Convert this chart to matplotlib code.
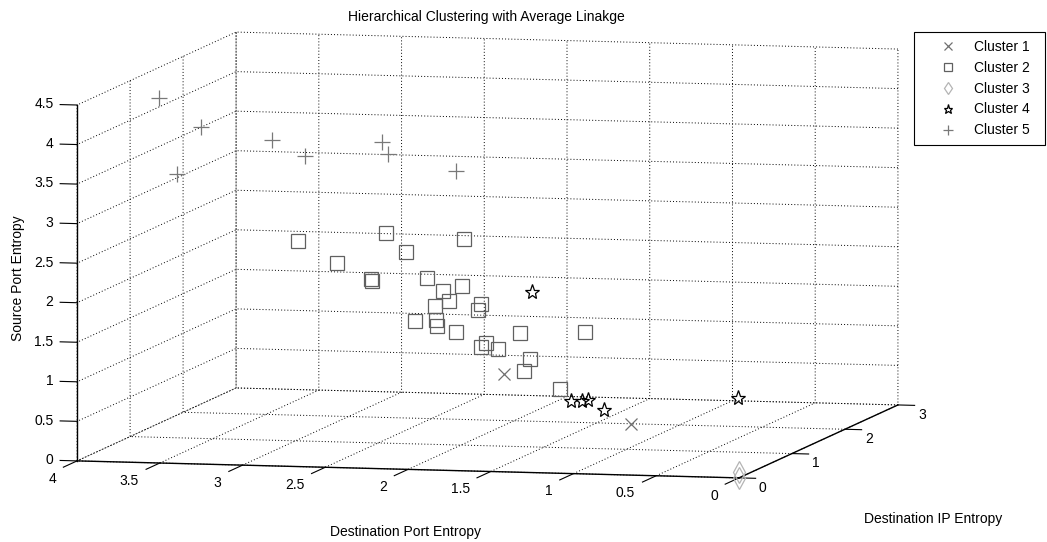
import matplotlib
matplotlib.use('Agg')
from matplotlib import pyplot as plt
from mpl_toolkits.mplot3d import proj3d

plt.rcParams['font.family'] = ['Liberation Sans', 'DejaVu Sans']
plt.rcParams['grid.color'] = 'k'
plt.rcParams['grid.linewidth'] = 0.7

# the data (x = destination port entropy, y = destination IP entropy, z = source port entropy)
c1_dport = [1.58, 0.75]
c1_dip = [0.50, 0.30]
c1_sport = [1.08, 0.55]

c2_dport = [2.92, 2.62, 2.45, 2.46, 2.42, 2.17, 1.98, 2.08, 2.01, 1.93, 1.91, 2.03, 2.18,
            1.99, 2.08, 1.90, 1.85, 1.80, 1.72, 1.72, 1.68, 1.58, 1.42, 1.49, 1.21, 1.25]
c2_dip = [0.80, 0.60, 0.70, 0.75, 0.90, 0.50, 1.00, 0.60, 0.70, 0.80, 0.50, 0.60, 0.70,
          0.50, 0.80, 0.60, 0.90, 0.70, 0.60, 0.50, 0.70, 0.80, 0.50, 0.60, 0.40, 1.00]
c2_sport = [2.59, 2.39, 2.17, 2.13, 2.69, 2.59, 2.61, 2.23, 2.04, 2.08, 1.98, 1.88, 1.65,
            1.74, 1.56, 1.56, 1.82, 1.81, 1.43, 1.41, 1.33, 1.50, 1.27, 1.09, 0.94, 1.47]

c3_dport = [0.0, 0.0]
c3_dip = [0.0, 0.0]
c3_sport = [0.0, 0.07]

c4_dport = [1.44, 1.11, 1.06, 0.99, 0.91, 0.04]
c4_dip = [0.60, 0.30, 0.35, 0.25, 0.30, 0.10]
c4_sport = [2.09, 0.82, 0.81, 0.86, 0.72, 0.98]

c5_dport = [3.89, 3.54, 3.75, 3.08, 2.94, 2.38, 2.54, 2.00]
c5_dip = [1.20, 0.90, 1.10, 0.80, 1.00, 0.70, 1.30, 0.90]
c5_sport = [4.23, 3.97, 3.30, 3.86, 3.61, 3.91, 3.56, 3.50]

xticks = [0, 0.5, 1, 1.5, 2, 2.5, 3, 3.5, 4]
xticklabels = ['0', '0.5', '1', '1.5', '2', '2.5', '3', '3.5', '4']
yticks = [0, 1, 2, 3]
yticklabels = ['0', '1', '2', '3']
zticks = [0, 0.5, 1, 1.5, 2, 2.5, 3, 3.5, 4, 4.5]
zticklabels = ['0', '0.5', '1', '1.5', '2', '2.5', '3', '3.5', '4', '4.5']

W, H = 1047, 542
fig = plt.figure(figsize=(W/100, H/100), dpi=100)
ax = fig.add_axes([-0.047, -0.4607, 0.99828, 1.92841], projection='3d', proj_type='ortho')

ax.plot(c1_dport, c1_dip, c1_sport, linestyle='none', marker='x', ms=9, mew=0.9,
        color='#707070', label='Cluster 1')
ax.plot(c2_dport, c2_dip, c2_sport, linestyle='none', marker='s', ms=10, mew=0.9,
        mfc='none', mec='#606060', label='Cluster 2')
ax.plot(c3_dport, c3_dip, c3_sport, linestyle='none', marker='d', ms=11, mew=0.9,
        mfc='none', mec='#b4b4b4', label='Cluster 3')
ax.plot(c4_dport, c4_dip, c4_sport, linestyle='none', marker='*', ms=11, mew=0.9,
        mfc='none', mec='k', label='Cluster 4')
ax.plot(c5_dport, c5_dip, c5_sport, linestyle='none', marker='+', ms=12, mew=0.9,
        color='#787878', label='Cluster 5')

# view (matlab like, reversed x)
ax.view_init(elev=6.23, azim=-76.69)
ax.set_xlim(4, 0)
ax.set_ylim(0, 3)
ax.set_zlim(0, 4.5)
ax.set_box_aspect((680.3, 690.8, 358.1), zoom=0.9597)

ax.set_xticks(xticks)
ax.set_yticks(yticks)
ax.set_zticks(zticks)
ax.zaxis.set_ticks_position('lower')
ax.zaxis._get_tickdir = lambda position: 0

for axis, fin, fout in [(ax.xaxis, 1.08, 0.0), (ax.yaxis, 0.315, 0.0), (ax.zaxis, 0.0, 0.32)]:
	axis.set_tick_params(label1On=False, label2On=False)
	axis._axinfo['tick']['inward_factor'] = fin
	axis._axinfo['tick']['outward_factor'] = fout
	axis._axinfo['tick']['linewidth'] = {True: 0.8, False: 0.5}
	axis._axinfo['grid']['linestyle'] = (0, (1, 2.2))
	axis.line.set_color('k')
	axis.line.set_linewidth(1.0)
	axis.set_pane_color((1, 1, 1, 0))

# tick labels, placed like matlab does (projected to the 2D plane of the axes)
M = ax.get_proj()
def label3d(x, y, z, s, ha):
	px, py, _ = proj3d.proj_transform(x, y, z, M)
	ax.text2D(px, py, s, transform=ax.transData, ha=ha, va='center', fontsize=10)

for t, s in zip(xticks, xticklabels):
	label3d(t, -0.396, -0.102, s, 'right')
for t, s in zip(yticks, yticklabels):
	label3d(-0.121, t, -0.116, s, 'left')
for t, s in zip(zticks, zticklabels):
	label3d(4.143, 0, t, s, 'right')

# labels and title
fig.text(486/W, 1 - 16.5/H, 'Hierarchical Clustering with Average Linakge', ha='center', va='center', fontsize=10)
fig.text(18/W, 1 - 278/H, 'Source Port Entropy', rotation=90, ha='center', va='center', fontsize=10)
fig.text(406/W, 1 - 532/H, 'Destination Port Entropy', ha='center', va='center', fontsize=10)
fig.text(933/W, 1 - 519/H, 'Destination IP Entropy', ha='center', va='center', fontsize=10)

leg = fig.legend(loc='upper left', bbox_to_anchor=(914/W, 1 - 145/H, 131/W, 113/H), mode='expand',
                 borderaxespad=0, fontsize=10, markerscale=0.6, fancybox=False, framealpha=1,
                 borderpad=0.55, handlelength=3.8, handletextpad=0.0, labelspacing=0.5)
leg.get_frame().set_edgecolor('k')
leg.get_frame().set_linewidth(0.8)

fig.savefig('out.png', dpi=100)
